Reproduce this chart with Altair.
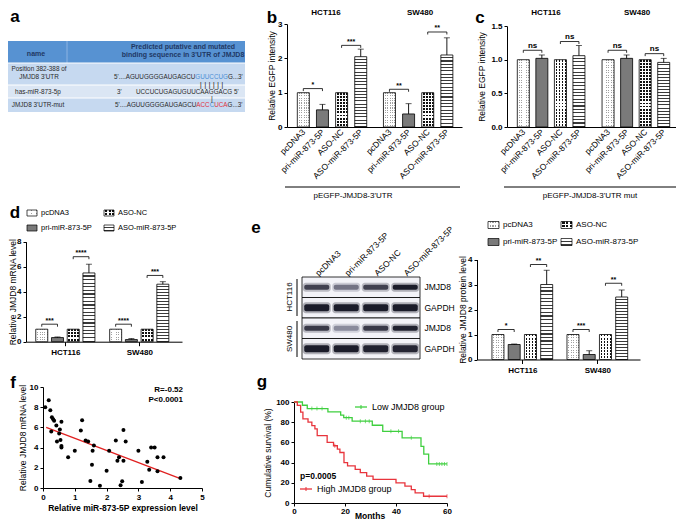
import json
import altair as alt
import pandas as pd

W, H = 668, 513


def X(p):
    return p - 8


def Y(p):
    return p - 8


FONT = "Liberation Sans"
DUMMY = alt.Data(values=[{"k": 0}])
TRANSP = "rgba(255,255,255,0)"

# ====================== DATA ======================
treat = ["pcDNA3", "pri-miR-873-5P", "ASO-NC", "ASO-miR-873-5P"]
cells = ["HCT116", "SW480"]
pairs = [(0, 0, 1), (0, 2, 3), (1, 0, 1), (1, 2, 3)]

# panel b
b_hct_mean = [1.0, 0.50, 1.0, 2.05]
b_hct_err = [0.0, 0.16, 0.0, 0.22]
b_sw_mean = [1.0, 0.38, 1.0, 2.10]
b_sw_err = [0.0, 0.30, 0.0, 0.50]
b_sig = ["*", "***", "**", "**"]
b_sig_y = [1.12, 2.38, 1.10, 2.77]
# panel c
c_hct_mean = [1.0, 1.02, 1.0, 1.06]
c_hct_err = [0.0, 0.05, 0.0, 0.15]
c_sw_mean = [1.0, 1.02, 1.0, 0.96]
c_sw_err = [0.0, 0.05, 0.0, 0.06]
c_sig = ["ns", "ns", "ns", "ns"]
c_sig_y = [1.14, 1.27, 1.14, 1.09]
# panel d
d_hct_mean = [1.0, 0.33, 1.0, 5.5]
d_hct_err = [0.0, 0.05, 0.0, 0.7]
d_sw_mean = [1.0, 0.17, 1.0, 4.6]
d_sw_err = [0.0, 0.08, 0.0, 0.2]
d_sig = ["***", "****", "****", "***"]
d_sig_y = [1.4, 6.8, 1.4, 5.3]
# panel e
e_hct_mean = [1.0, 0.60, 1.0, 3.0]
e_hct_err = [0.0, 0.02, 0.0, 0.57]
e_sw_mean = [1.0, 0.20, 1.0, 2.5]
e_sw_err = [0.0, 0.15, 0.0, 0.28]
e_sig = ["*", "**", "***", "**"]
e_sig_y = [1.2, 3.8, 1.2, 3.05]
blot_rows = ["JMJD8|HCT116", "GAPDH|HCT116", "JMJD8|SW480", "GAPDH|SW480"]
blot_int = [[0.78, 0.55, 0.78, 0.97],
            [0.97, 0.97, 0.97, 0.97],
            [0.82, 0.45, 0.82, 0.94],
            [0.97, 0.97, 0.94, 0.92]]
# panel f
f_x = [0.07, 0.18, 0.23, 0.28, 0.32, 0.35, 0.26, 0.42, 0.53, 0.51, 0.44, 0.55, 0.58, 0.58,
       0.58, 0.79, 1.00, 1.23, 1.19, 1.34, 1.42, 1.60, 1.56, 1.54, 1.49, 1.79, 2.00, 2.08,
       2.29, 2.34, 2.39, 2.44, 2.49, 2.53, 2.53, 2.60, 3.00, 3.11, 3.28, 3.34, 3.40, 3.51,
       3.60, 3.60, 3.79, 4.32]
f_y = [8.0, 8.7, 7.7, 7.0, 6.8, 6.65, 5.6, 6.2, 5.8, 5.4, 4.6, 4.75, 4.15, 4.0,
       6.55, 3.05, 3.7, 6.7, 5.7, 4.7, 4.6, 4.2, 3.7, 2.3, 0.7, 0.23, 1.7, 3.7,
       4.7, 2.7, 3.05, 0.26, 0.66, 2.7, 5.75, 4.6, 3.7, 0.6, 2.6, 1.8, 4.0, 4.0,
       3.05, 1.65, 3.05, 1.0]
f_fit_x = [0.1, 4.3]
f_fit_y = [6.0, 0.95]
# panel g
low_t = [0, 3.3, 5.2, 13.3, 18.3, 19.5, 22.8, 30.7, 34.8, 42.4, 49.8, 50.9, 52.8, 60]
low_s = [100, 96.8, 93.5, 90.3, 87.1, 84.5, 81.0, 77.0, 71.0, 64.5, 56.0, 48.4, 38.7, 38.7]
low_cens_t = [7, 9, 11, 20.5, 21.5, 26, 28, 29.5, 38, 41, 46, 56, 57, 58, 59, 60]
low_cens_s = [93.5, 93.5, 93.5, 84.5, 84.5, 81.0, 81.0, 81.0, 71.0, 71.0, 64.5,
              38.7, 38.7, 38.7, 38.7, 38.7]
high_t = [0, 1.3, 2.6, 3.5, 5.5, 7, 8.2, 9.1, 13, 15.5, 17, 18, 19.6, 21, 24, 26,
          28.5, 31, 40, 43.5, 46, 47.5, 50.8, 60]
high_s = [100, 96.7, 90, 83.3, 80, 76.7, 73.3, 66.7, 60, 56.7, 53.3, 50, 40, 36.7,
          33.3, 30, 26.7, 23.3, 20, 16.7, 13.3, 10, 6.7, 6.7]
high_cens_t = [16, 53, 60]
high_cens_s = [56.7, 6.7, 6.7]

# panel a table texts
tbl_head1 = "name"
tbl_head2 = ["Predicted  putative and mutated", "binding sequence in  3'UTR of JMJD8"]
tbl_names = [["Position 382-388 of", "JMJD8 3'UTR"], ["has-miR-873-5p"], ["JMJD8 3'UTR-mut"]]
seq_wt = [("5'....AGUUGGGGAUGAGCU", "k"), ("GUUCCUG", "b"), ("G...3'", "k")]
seq_mir_5 = "3'"
seq_mir = "UCCUCUGAGUGUUCAAGGACG  5'"
seq_mut = [("5'....AGUUGGGGAUGAGCU", "k"), ("ACC", "r"), ("C", "b"), ("UCA", "r"), ("G...3'", "k")]

# ====================== HELPERS ======================
AW = {"5": 556, "3": 556, "'": 191, ".": 278, " ": 278, "A": 667, "G": 778,
      "U": 722, "C": 722, "|": 260}


def tw(s, size):
    return sum(AW.get(ch, 600) for ch in s) * size / 1000.0


def tx(s, x, y, size=8, weight="normal", align="center", baseline="middle", angle=0,
       color="black"):
    return alt.Chart(DUMMY).mark_text(
        align=align, baseline=baseline, angle=angle, fontSize=size, fontWeight=weight,
        color=color, font=FONT
    ).encode(x=alt.value(X(x)), y=alt.value(Y(y)), text=alt.value(s))


def hline(x1, x2, y, color="black", w=1.0):
    return alt.Chart(DUMMY).mark_rule(color=color, strokeWidth=w).encode(
        x=alt.value(X(x1)), x2=alt.value(X(x2)), y=alt.value(Y(y)))


def vline(x, y1, y2, color="black", w=1.0):
    return alt.Chart(DUMMY).mark_rule(color=color, strokeWidth=w).encode(
        x=alt.value(X(x)), y=alt.value(Y(y1)), y2=alt.value(Y(y2)))


def box(x1, x2, y1, y2, fill, stroke="black", sw=0.0, opacity=1.0):
    kw = dict(fill=fill, strokeWidth=sw, fillOpacity=opacity)
    if sw > 0:
        kw["stroke"] = stroke
    return alt.Chart(DUMMY).mark_rect(**kw).encode(
        x=alt.value(X(x1)), x2=alt.value(X(x2)), y=alt.value(Y(y1)), y2=alt.value(Y(y2)))


def stripes(n, line, bg, frac, vertical_lines):
    stops = []
    for k in range(n):
        a, b, c = k / n, (k + 1 - frac) / n, (k + 1) / n
        stops += [alt.GradientStop(color=bg, offset=round(a, 4)),
                  alt.GradientStop(color=bg, offset=round(b, 4)),
                  alt.GradientStop(color=line, offset=round(b, 4)),
                  alt.GradientStop(color=line, offset=round(c, 4))]
    if vertical_lines:
        return alt.LinearGradient(gradient="linear", stops=stops, x1=0, y1=0, x2=1, y2=0)
    return alt.LinearGradient(gradient="linear", stops=stops, x1=0, y1=0, x2=0, y2=1)


def fills(t, h, w):
    if t == "pcDNA3":
        return (stripes(max(2, round(w / 2.5)), "#a0a0a0", "#ffffff", 0.4, True),
                stripes(max(2, round(h / 2.5)), "#ffffff", TRANSP, 0.55, False))
    if t == "pri-miR-873-5P":
        return "#7a7a7a", None
    if t == "ASO-NC":
        return (stripes(max(2, round(w / 3.0)), "#111111", "#ffffff", 0.62, True),
                stripes(max(2, round(h / 3.0)), "#ffffff", TRANSP, 0.38, False))
    return stripes(max(2, round(h / 3.3)), "#3a3a3a", "#ffffff", 0.33, False), None


def bar_panel(means, errs, sig, sig_y, gm):
    G, x0, step = gm["G"], gm["x0"], gm["step"]
    rows = []
    for gi, cell in enumerate(cells):
        for i, t in enumerate(treat):
            m, e = means[gi][i], errs[gi][i]
            rows.append({"cell": cell, "treat": t, "pos": gi * G + i, "mean": m,
                         "hi": m + e, "err": e})
    df = pd.DataFrame(rows)
    xs = alt.Scale(domain=[(gm["xl"] - x0) / step, (gm["xr"] - x0) / step],
                   range=[X(gm["xl"]), X(gm["xr"])], nice=False, zero=False)
    ppu, y0, ymax = gm["ppu"], gm["y0"], gm["ymax"]
    ys = alt.Scale(domain=[0, ymax], range=[Y(y0), Y(y0 - ymax * ppu)], nice=False, zero=True)
    yax = alt.Axis(orient="left", offset=-X(gm["yax"]), values=gm["yticks"], format=gm["yfmt"],
                   title=gm["ytitle"], titlePadding=gm["tpad"], grid=False)
    if gm["mode"] == "bars":
        vals = [gi * G + i for gi in range(2) for i in range(4)]
        expr = "%s[round(datum.value - %s * floor((datum.value + 0.01) / %s))]" % (
            json.dumps(treat), G, G)
        xax = alt.Axis(orient="bottom", offset=Y(y0) - H, values=vals, labelExpr=expr,
                       labelAngle=-45, labelAlign="right", labelBaseline="middle",
                       labelFontWeight="normal", labelFontSize=8.5, ticks=False,
                       labelPadding=3, title=None, grid=False)
    else:
        vals = [gi * G + 1.5 for gi in range(2)]
        expr = "%s[round((datum.value - 1.5) / %s)]" % (json.dumps(cells), G)
        xax = alt.Axis(orient="bottom", offset=Y(y0) - H, values=vals, labelExpr=expr,
                       ticks=True, tickSize=4, labelPadding=3, title=None, grid=False)

    def xe(f):
        return alt.X(f + ":Q", scale=xs, axis=xax)

    def ye(f):
        return alt.Y(f + ":Q", scale=ys, axis=yax)

    layers = []
    bw = gm["bw"]
    for t in treat:
        sub = df[df.treat == t]
        h_typ = max(float(sub["mean"].mean()) * ppu, 6)
        base, over = fills(t, h_typ, bw)
        layers.append(alt.Chart(sub).mark_bar(orient="vertical", size=bw, fill=base,
                                              strokeWidth=0).encode(x=xe("pos"), y=ye("mean")))
        if over is not None:
            layers.append(alt.Chart(sub).mark_bar(orient="vertical", size=bw, fill=over,
                                                  strokeWidth=0).encode(x=xe("pos"), y=ye("mean")))
        layers.append(alt.Chart(sub).mark_bar(orient="vertical", size=bw, fill="#ffffff",
                                              fillOpacity=0, stroke="black",
                                              strokeWidth=0.8).encode(x=xe("pos"), y=ye("mean")))
    er = df[df.err > 0]
    layers.append(alt.Chart(er).mark_rule(color="black", strokeWidth=0.9).encode(
        x=xe("pos"), y=ye("mean"), y2="hi:Q"))
    layers.append(alt.Chart(er).mark_tick(orient="horizontal", size=6, thickness=0.9,
                                          color="black").encode(x=xe("pos"), y=ye("hi")))
    brs = []
    for k, (gi, i, j) in enumerate(pairs):
        brs.append({"x1": gi * G + i, "x2": gi * G + j, "mid": gi * G + (i + j) / 2.0,
                    "h": sig_y[k], "hd": sig_y[k] - 2.5 / ppu, "lab": sig[k]})
    bd = pd.DataFrame(brs)
    layers.append(alt.Chart(bd).mark_rule(color="black", strokeWidth=0.8).encode(
        x=xe("x1"), x2="x2:Q", y=ye("h")))
    layers.append(alt.Chart(bd).mark_rule(color="black", strokeWidth=0.8).encode(
        x=xe("x1"), y=ye("h"), y2="hd:Q"))
    layers.append(alt.Chart(bd).mark_rule(color="black", strokeWidth=0.8).encode(
        x=xe("x2"), y=ye("h"), y2="hd:Q"))
    layers.append(alt.Chart(bd).mark_text(baseline="bottom", dy=-0.5, fontSize=gm["sigsize"],
                                          fontWeight="bold", font=FONT).encode(
        x=xe("mid"), y=ye("h"), text="lab:N"))
    return alt.layer(*layers)


def legend(x1, x2, y1, y2, size, sw_w=10, sw_h=6):
    out = []
    spots = [(treat[0], x1, y1), (treat[2], x2, y1), (treat[1], x1, y2), (treat[3], x2, y2)]
    for t, sx, sy in spots:
        if t == "pcDNA3":
            base, over = stripes(4, "#a0a0a0", "#ffffff", 0.4, True), stripes(2, "#ffffff", TRANSP, 0.5, False)
        elif t == "ASO-NC":
            base, over = stripes(3, "#111111", "#ffffff", 0.62, True), stripes(2, "#ffffff", TRANSP, 0.38, False)
        elif t == "pri-miR-873-5P":
            base, over = "#7a7a7a", None
        else:
            base, over = stripes(2, "#3a3a3a", "#ffffff", 0.35, False), None
        out.append(box(sx, sx + sw_w, sy - sw_h / 2, sy + sw_h / 2, base))
        if over is not None:
            out.append(box(sx, sx + sw_w, sy - sw_h / 2, sy + sw_h / 2, over))
        out.append(box(sx, sx + sw_w, sy - sw_h / 2, sy + sw_h / 2, "#ffffff", sw=0.7, opacity=0))
        out.append(tx(t, sx + sw_w + 4, sy, size=size, align="left"))
    return out


layers = []

# ====================== PANEL A (table) ======================
HEAD = "#5792d2"
ROWA = "#c6d9f0"
ROWB = "#dbe6f4"
NAVY = "#1f3864"
TXT = "#2a2a2a"
BLUE = "#4b8fd6"
RED = "#e03040"
colmap = {"k": TXT, "b": BLUE, "r": RED}
ty = [41, 63, 85, 98, 112]
layers.append(box(0, 245, ty[0], ty[1], HEAD))
layers.append(box(0, 245, ty[1], ty[2], ROWA))
layers.append(box(0, 245, ty[2], ty[3], ROWB))
layers.append(box(0, 245, ty[3], ty[4], ROWA))
layers.append(vline(67, ty[0], ty[1], color="#8db3e2", w=1))
for yy in ty[1:4]:
    layers.append(hline(0, 245, yy, color="#ffffff", w=1))
layers.append(tx(tbl_head1, 36, 54, size=7, weight="bold", color=NAVY))
layers.append(tx(tbl_head2[0], 183, 46.5, size=7, weight="bold", color=NAVY))
layers.append(tx(tbl_head2[1], 183, 54.5, size=7, weight="bold", color=NAVY))
layers.append(tx(tbl_names[0][0], 39, 69, size=6.4, color=TXT))
layers.append(tx(tbl_names[0][1], 39, 77, size=6.4, color=TXT))
layers.append(tx(tbl_names[1][0], 38, 91.5, size=6.4, color=TXT))
layers.append(tx(tbl_names[2][0], 38, 105, size=6.4, color=TXT))
SQ = 6.3


def seq_line(segs, x, y):
    out = []
    cx = x
    for s, c in segs:
        out.append(tx(s, cx, y, size=SQ, align="left", color=colmap[c]))
        cx += tw(s, SQ)
    return out


layers += seq_line(seq_wt, 114, 77)
layers.append(tx(seq_mir_5, 117, 91.5, size=SQ, align="left", color=TXT))
layers.append(tx(seq_mir, 136, 91.5, size=SQ, align="left", color=TXT))
layers += seq_line(seq_mut, 115, 105)
blue_c = 114 + tw(seq_wt[0][0], SQ) + tw(seq_wt[1][0], SQ) / 2
layers.append(tx("| | | | | |", blue_c, 84.5, size=8, color=TXT))
mut_c = 115 + tw(seq_mut[0][0], SQ) + tw(seq_mut[1][0], SQ) + tw(seq_mut[2][0], SQ) / 2
layers.append(tx("|", mut_c, 98.5, size=7, color=TXT))
layers.append(tx("a", 15, 17, size=17, weight="bold"))

# ====================== PANEL B ======================
gb = dict(x0=299, step=20.3, G=4.5, xl=287, xr=462, yax=287, y0=127, ppu=34.3, ymax=3,
          yticks=[0, 1, 2, 3], yfmt="d", ytitle="Relative EGFP intensity", tpad=1,
          mode="bars", bw=12, sigsize=7)
layers.append(bar_panel([b_hct_mean, b_sw_mean], [b_hct_err, b_sw_err], b_sig, b_sig_y, gb))
layers.append(tx("b", 272, 18, size=17, weight="bold"))
layers.append(tx(cells[0], 326, 13, size=8, weight="bold"))
layers.append(tx(cells[1], 420, 13, size=8, weight="bold"))
layers.append(hline(285, 460, 187))
layers.append(tx("pEGFP-JMJD8-3'UTR", 353, 196, size=8))

# ====================== PANEL C ======================
gc = dict(x0=519, step=19.7, G=4.57, xl=507, xr=678, yax=507, y0=127, ppu=67.3, ymax=1.5,
          yticks=[0, 0.5, 1.0, 1.5], yfmt=".1f", ytitle="Relative EGFP intensity", tpad=4,
          mode="bars", bw=12, sigsize=8)
layers.append(bar_panel([c_hct_mean, c_sw_mean], [c_hct_err, c_sw_err], c_sig, c_sig_y, gc))
layers.append(tx("c", 480, 18, size=17, weight="bold"))
layers.append(tx(cells[0], 546, 13, size=8, weight="bold"))
layers.append(tx(cells[1], 637, 13, size=8, weight="bold"))
layers.append(hline(504, 676, 187))
layers.append(tx("pEGFP-JMJD8-3'UTR mut", 590, 196, size=8))

# ====================== PANEL D ======================
gd = dict(x0=37.5, step=16.8, G=4.7, xl=26, xr=182, yax=26, y0=341.7, ppu=12.5, ymax=8,
          yticks=[0, 2, 4, 6, 8], yfmt="d", ytitle="Relative JMJD8 mRNA level", tpad=-0.5,
          mode="groups", bw=12, sigsize=7)
layers.append(bar_panel([d_hct_mean, d_sw_mean], [d_hct_err, d_sw_err], d_sig, d_sig_y, gd))
layers.append(tx("d", 15, 213, size=17, weight="bold"))
layers += legend(27, 104, 213, 228, 7.5)

# ====================== PANEL E ======================
ge = dict(x0=494, step=17.3, G=4.62, xl=477, xr=640, yax=477, y0=359.5, ppu=25, ymax=4,
          yticks=[0, 1, 2, 3, 4], yfmt="d", ytitle="Relative JMJD8 protein level", tpad=0,
          mode="groups", bw=12, sigsize=7)
layers.append(bar_panel([e_hct_mean, e_sw_mean], [e_hct_err, e_sw_err], e_sig, e_sig_y, ge))
layers.append(tx("e", 256, 228, size=17, weight="bold"))
layers += legend(488, 561, 225, 242, 8, sw_w=11, sw_h=7)

# western blot
bl = []
for r, row in enumerate(blot_rows):
    for l, t in enumerate(treat):
        bl.append({"row": row, "lane": t, "inten": blot_int[r][l], "prot": row.split("|")[0]})
bdf = pd.DataFrame(bl)
bx = alt.X("lane:N", scale=alt.Scale(domain=treat, range=[X(302), X(420)], paddingInner=0,
                                     paddingOuter=0),
           axis=alt.Axis(orient="top", offset=-Y(277), labelAngle=-45, labelAlign="left",
                         labelBaseline="middle", labelPadding=3, labelFontWeight="normal",
                         labelFontSize=8.5, ticks=False, domain=False, title=None))
by = alt.Y("row:N", scale=alt.Scale(domain=blot_rows, range=[Y(277), Y(359)], paddingInner=0,
                                    paddingOuter=0),
           axis=alt.Axis(orient="right", offset=X(421) - W, labelExpr="split(datum.value, '|')[0]",
                         ticks=False, domain=False, labelPadding=3, labelFontSize=8.5,
                         labelFontWeight="normal", title=None))
cs = alt.Scale(domain=[0, 1], range=["#ffffff", "#0c0c1c"])
blot_layers = [
    alt.Chart(pd.DataFrame({"row": blot_rows})).mark_rect(
        fill="#f3f3f8", stroke="black", strokeWidth=0.8).encode(
        y=by, x=alt.value(X(302)), x2=alt.value(X(420)))
]
for prot, th in [("JMJD8", 5), ("GAPDH", 7)]:
    sub = bdf[bdf.prot == prot]
    blot_layers.append(alt.Chart(sub).mark_tick(orient="horizontal", size=28, thickness=th + 4,
                                                cornerRadius=3, opacity=0.3).encode(
        x=bx, y=by, color=alt.Color("inten:Q", scale=cs, legend=None)))
    blot_layers.append(alt.Chart(sub).mark_tick(orient="horizontal", size=25, thickness=th,
                                                cornerRadius=2, opacity=0.95).encode(
        x=bx, y=by, color=alt.Color("inten:Q", scale=cs, legend=None)))
layers.append(alt.layer(*blot_layers))
layers.append(tx("HCT116", 290, 297, size=8, angle=270))
layers.append(vline(297, 279, 316))
layers.append(tx("SW480", 290, 339, size=8, angle=270))
layers.append(vline(297, 321, 357))

# ====================== PANEL F ======================
fxs = alt.Scale(domain=[0, 5], range=[X(43), X(202)], nice=False, zero=False)
fys = alt.Scale(domain=[0, 10], range=[Y(488), Y(387)], nice=False)
fxa = alt.Axis(orient="bottom", offset=Y(488) - H, values=[0, 1, 2, 3, 4, 5],
               title="Relative miR-873-5P expression level", titleFontWeight="bold",
               titlePadding=2, grid=False)
fya = alt.Axis(orient="left", offset=-X(43), values=[0, 2, 4, 6, 8, 10],
               title="Relative JMJD8 mRNA level", titlePadding=2, grid=False)
f_pts = alt.Chart(pd.DataFrame({"x": f_x, "y": f_y})).mark_circle(
    size=16, color="black", opacity=1).encode(
    x=alt.X("x:Q", scale=fxs, axis=fxa), y=alt.Y("y:Q", scale=fys, axis=fya))
f_fit = alt.Chart(pd.DataFrame({"x": f_fit_x, "y": f_fit_y})).mark_line(
    color="#e02020", strokeWidth=1.3).encode(
    x=alt.X("x:Q", scale=fxs, axis=fxa), y=alt.Y("y:Q", scale=fys, axis=fya))
layers.append(alt.layer(f_fit, f_pts))
layers.append(tx("f", 13, 383, size=17, weight="bold"))
layers.append(tx("R=-0.52", 183, 390, size=8, weight="bold", align="right"))
layers.append(tx("P<0.0001", 183, 400, size=8, weight="bold", align="right"))

# ====================== PANEL G ======================
GREEN = "#3fcf3f"
REDL = "#e8343c"
gxs = alt.Scale(domain=[0, 60], range=[X(294), X(447)], nice=False, zero=False)
gys = alt.Scale(domain=[0, 100], range=[Y(503), Y(402)], nice=False)
gxa = alt.Axis(orient="bottom", offset=Y(503) - H, values=[0, 20, 40, 60], title=None,
               labelPadding=1, grid=False)
gya = alt.Axis(orient="left", offset=-X(294), values=[0, 20, 40, 60, 80, 100],
               title="Cumulative survival (%)", titlePadding=3, grid=False)


def gx(f):
    return alt.X(f + ":Q", scale=gxs, axis=gxa)


def gy(f):
    return alt.Y(f + ":Q", scale=gys, axis=gya)


g_layers = [
    alt.Chart(pd.DataFrame({"t": low_t, "s": low_s})).mark_line(
        interpolate="step-after", color=GREEN, strokeWidth=1.3).encode(x=gx("t"), y=gy("s")),
    alt.Chart(pd.DataFrame({"t": high_t, "s": high_s})).mark_line(
        interpolate="step-after", color=REDL, strokeWidth=1.3).encode(x=gx("t"), y=gy("s")),
    alt.Chart(pd.DataFrame({"t": low_cens_t, "s": low_cens_s})).mark_tick(
        orient="vertical", size=4, thickness=1, color=GREEN).encode(x=gx("t"), y=gy("s")),
    alt.Chart(pd.DataFrame({"t": high_cens_t, "s": high_cens_s})).mark_tick(
        orient="vertical", size=4, thickness=1, color=REDL).encode(x=gx("t"), y=gy("s")),
]
layers.append(alt.layer(*g_layers))
layers.append(tx("Months", 370, 516, size=8.5, weight="bold"))
layers.append(tx("g", 262, 382, size=17, weight="bold"))
layers.append(hline(355, 367, 407, color=GREEN, w=1.3))
layers.append(vline(361, 405, 409, color=GREEN))
layers.append(tx("Low JMJD8 group", 372, 407, size=9, align="left"))
layers.append(tx("p=0.0005", 300, 476, size=8.5, weight="bold", align="left"))
layers.append(hline(300, 312, 489, color=REDL, w=1.3))
layers.append(vline(306, 487, 491, color=REDL))
layers.append(tx("High JMJD8  group", 317, 489, size=9, align="left"))

# ====================== ASSEMBLE ======================
chart = alt.layer(*layers).resolve_scale(
    x="independent", y="independent", color="independent"
).properties(
    width=W, height=H, padding=0, autosize=alt.AutoSizeParams(type="none")
).configure_view(stroke=None).configure_axis(
    domainColor="black", domainWidth=1, tickColor="black", tickWidth=1, tickSize=3,
    labelColor="black", titleColor="black", labelFont=FONT, titleFont=FONT,
    labelFontSize=8, labelFontWeight="bold", titleFontSize=8.5, titleFontWeight="normal",
    grid=False, labelOverlap=False, labelFlush=False, labelPadding=2
)

chart.save("out.html", embed_options={"renderer": "svg", "actions": False})
